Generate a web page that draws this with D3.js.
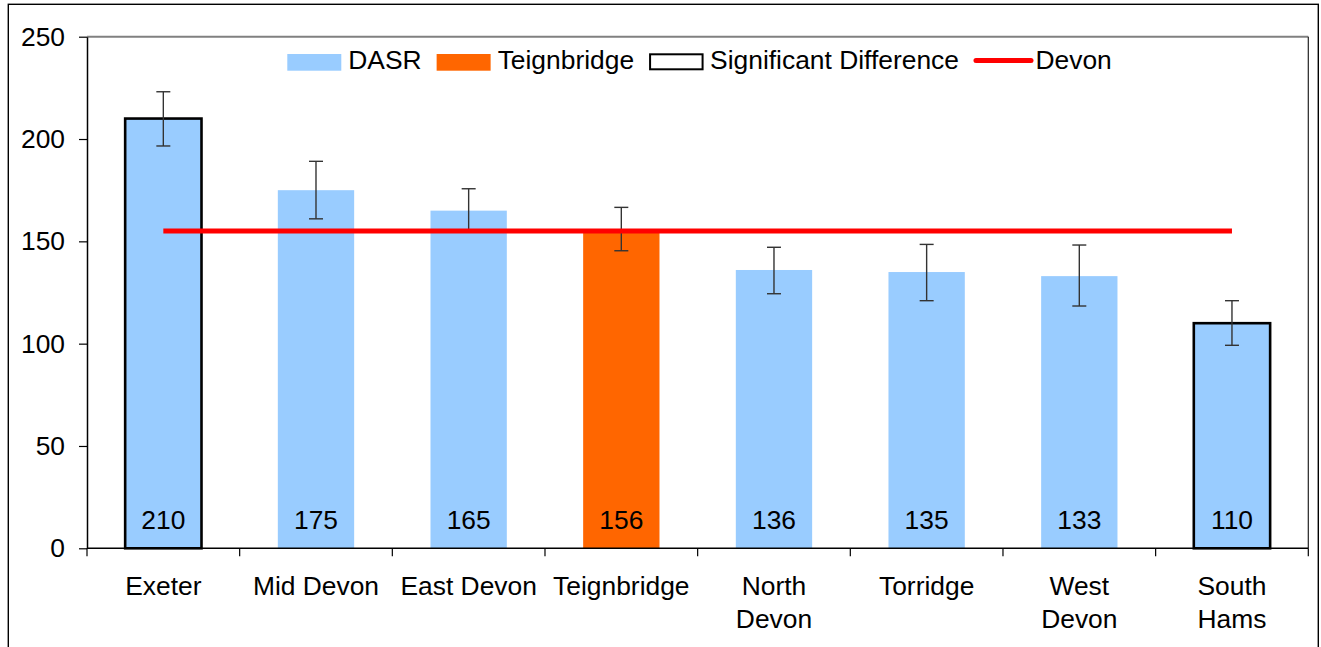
<!DOCTYPE html>
<html>
<head>
<meta charset="utf-8">
<script src="https://cdn.jsdelivr.net/npm/d3@7"></script>
<style>
  html, body { margin: 0; padding: 0; background: #fff; }
  svg { display: block; font-family: "Liberation Sans", Arial, sans-serif; }
</style>
</head>
<body>
<svg id="chart" width="1321" height="647"></svg>
<script>
// ---- data ----
const categories = ["Exeter", "Mid Devon", "East Devon", "Teignbridge", "North Devon", "Torridge", "West Devon", "South Hams"];
const categoryLabels = [["Exeter"], ["Mid Devon"], ["East Devon"], ["Teignbridge"], ["North", "Devon"], ["Torridge"], ["West", "Devon"], ["South", "Hams"]];
const dasr = [210, 175, 165, 156, 136, 135, 133, 110];
const ciLower = [196.6, 161, 154.5, 145.4, 124.4, 121.0, 118.4, 99.2];
const ciUpper = [223.1, 189.1, 175.7, 166.6, 147.1, 148.5, 148.2, 121.0];
const significant = [true, false, false, false, false, false, false, true];
const highlight = [false, false, false, true, false, false, false, false];
const devonValue = 155;
const yTicks = [0, 50, 100, 150, 200, 250];
const legendItems = ["DASR", "Teignbridge", "Significant Difference", "Devon"];

(function () {
// ---- layout ----
const svg = d3.select("#chart");
const pLeft = 87, pRight = 1308.3, pTop = 36.7, pBottom = 548.3;
const FS = 26.4;

// outer frame
svg.append("rect").attr("x", 8.3).attr("y", 4.3).attr("width", 1310).attr("height", 700)
  .attr("fill", "none").attr("stroke", "#000").attr("stroke-width", 1.4);

const x = d3.scaleBand().domain(categories).range([pLeft, pRight]).paddingInner(0.5).paddingOuter(0.25);
const y = d3.scaleLinear().domain([0, 250]).range([pBottom, pTop]);

// plot area border (top gray, right dark)
svg.append("line").attr("x1", pLeft).attr("x2", pRight).attr("y1", pTop).attr("y2", pTop)
  .attr("stroke", "#808080").attr("stroke-width", 2);
svg.append("line").attr("x1", pRight).attr("x2", pRight).attr("y1", pTop).attr("y2", pBottom)
  .attr("stroke", "#222").attr("stroke-width", 1.2);

// bars
svg.append("g").selectAll("rect").data(categories).join("rect")
  .attr("x", d => x(d))
  .attr("y", (d, i) => y(dasr[i]))
  .attr("width", x.bandwidth())
  .attr("height", (d, i) => y(0) - y(dasr[i]))
  .attr("fill", (d, i) => highlight[i] ? "#FF6600" : "#99CCFF")
  .attr("stroke", (d, i) => significant[i] ? "#000" : "none")
  .attr("stroke-width", 2.6);

// error bars
const eb = svg.append("g").attr("stroke", "#333").attr("stroke-width", 1.4);
categories.forEach((c, i) => {
  const cx = x(c) + x.bandwidth() / 2;
  eb.append("line").attr("x1", cx).attr("x2", cx).attr("y1", y(ciLower[i])).attr("y2", y(ciUpper[i]));
  eb.append("line").attr("x1", cx - 7).attr("x2", cx + 7).attr("y1", y(ciLower[i])).attr("y2", y(ciLower[i]));
  eb.append("line").attr("x1", cx - 7).attr("x2", cx + 7).attr("y1", y(ciUpper[i])).attr("y2", y(ciUpper[i]));
});

// Devon line
const cx0 = x(categories[0]) + x.bandwidth() / 2;
const cxN = x(categories[categories.length - 1]) + x.bandwidth() / 2;
svg.append("line").attr("x1", cx0).attr("x2", cxN).attr("y1", y(devonValue)).attr("y2", y(devonValue))
  .attr("stroke", "#FF0000").attr("stroke-width", 5);

// value labels
svg.append("g").selectAll("text").data(categories).join("text")
  .attr("x", d => x(d) + x.bandwidth() / 2)
  .attr("y", 529.3)
  .attr("text-anchor", "middle")
  .attr("font-size", FS)
  .attr("fill", "#000")
  .text((d, i) => dasr[i]);

// y axis
const yAxis = d3.axisLeft(y).tickValues(yTicks).tickSize(8).tickPadding(14).tickSizeOuter(0);
const gy = svg.append("g").attr("transform", `translate(${pLeft},0)`).call(yAxis);
gy.select(".domain").attr("stroke", "#000").attr("stroke-width", 1.5);
gy.selectAll(".tick line").attr("stroke", "#000").attr("stroke-width", 1.2);
gy.selectAll(".tick text").attr("font-size", FS).attr("font-family", "Liberation Sans, Arial, sans-serif").attr("fill", "#000");

// x axis line
svg.append("line").attr("x1", pLeft).attr("x2", pRight).attr("y1", pBottom).attr("y2", pBottom)
  .attr("stroke", "#000").attr("stroke-width", 1.5);
// x ticks at band boundaries
const boundaries = d3.range(categories.length + 1).map(i => pLeft + i * (pRight - pLeft) / categories.length);
svg.append("g").selectAll("line").data(boundaries).join("line")
  .attr("x1", d => d).attr("x2", d => d).attr("y1", pBottom).attr("y2", pBottom + 8)
  .attr("stroke", "#000").attr("stroke-width", 1.2);

// x labels
const gx = svg.append("g");
categories.forEach((c, i) => {
  const t = gx.append("text").attr("text-anchor", "middle").attr("font-size", FS).attr("fill", "#000");
  categoryLabels[i].forEach((line, j) => {
    t.append("tspan").attr("x", x(c) + x.bandwidth() / 2).attr("y", 595 + j * 33.3).text(line);
  });
});

// legend
const lg = svg.append("g");
let lx = 287.3;
const ly = 69.3;
legendItems.forEach((name, i) => {
  if (i === 0 || i === 1) {
    lg.append("rect").attr("x", lx).attr("y", 54).attr("width", 54).attr("height", 16.7)
      .attr("fill", i === 0 ? "#99CCFF" : "#FF6600");
    lx += 54 + 7;
  } else if (i === 2) {
    lg.append("rect").attr("x", lx + 1).attr("y", 54.3).attr("width", 52.5).attr("height", 15)
      .attr("fill", "#fff").attr("stroke", "#000").attr("stroke-width", 2);
    lx += 54 + 7;
  } else {
    lg.append("line").attr("x1", lx + 2).attr("x2", lx + 57).attr("y1", 60.5).attr("y2", 60.5)
      .attr("stroke", "#FF0000").attr("stroke-width", 5).attr("stroke-linecap", "round");
    lx += 61.5;
  }
  const t = lg.append("text").attr("x", lx).attr("y", ly).attr("font-size", FS).attr("fill", "#000").text(name);
  lx += t.node().getComputedTextLength() + 15;
});
})();
</script>
</body>
</html>
